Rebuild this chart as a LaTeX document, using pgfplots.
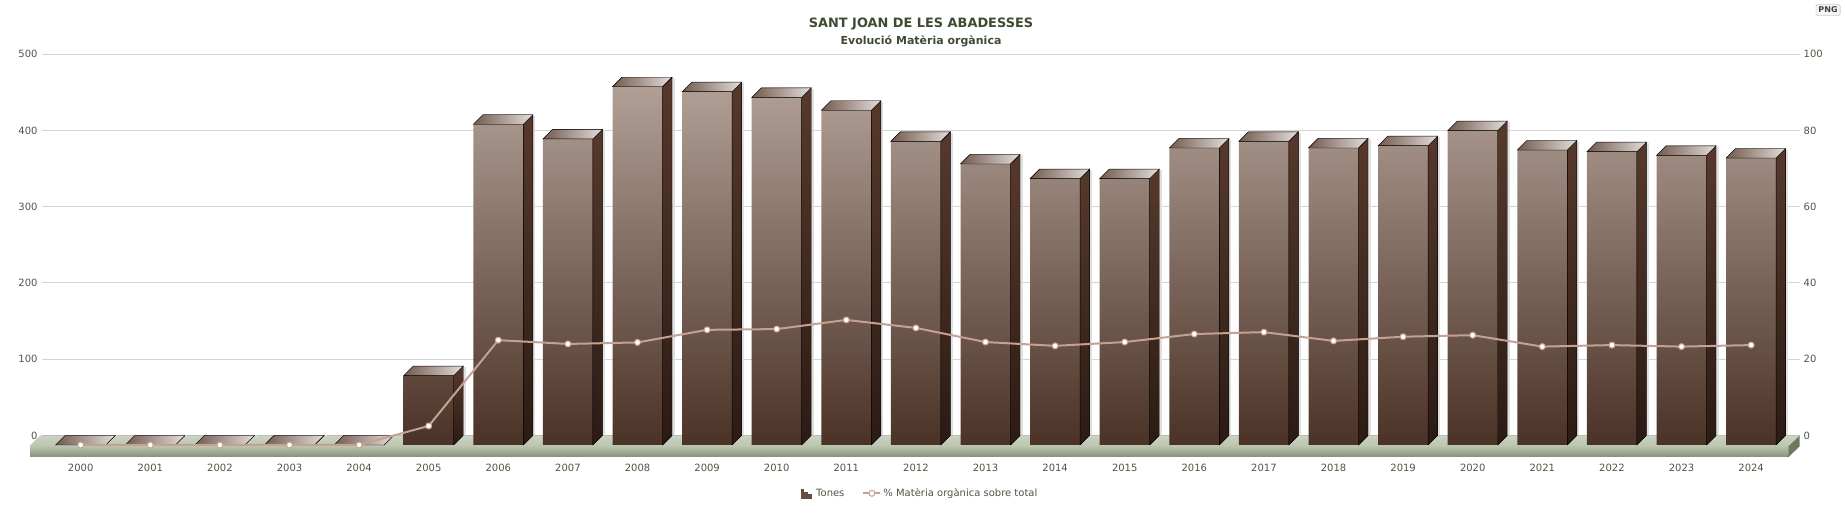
\documentclass[border=0pt]{standalone}
\usepackage{pgfplots}
\pgfplotsset{compat=1.18}
\usepackage{pgfplotstable}
\usepackage{fontspec}
\setmainfont{DejaVu Sans}

\definecolor{barTop}{HTML}{B19F95}
\definecolor{barBot}{HTML}{4B3226}
\definecolor{sideTop}{HTML}{57392C}
\definecolor{sideBot}{HTML}{2B1B14}
\definecolor{topDark}{HTML}{735A4F}
\definecolor{topMid}{HTML}{B3A199}
\definecolor{topLight}{HTML}{E4DEDA}
\definecolor{gridC}{HTML}{D4D4D4}
\definecolor{lineC}{HTML}{C4A193}
\definecolor{tickC}{HTML}{4F5644}
\definecolor{titleC}{HTML}{3E4B32}
\definecolor{floorTop}{HTML}{BAC4AD}
\definecolor{floorBack}{HTML}{CBD3C1}
\definecolor{floorF1}{HTML}{B8C2AA}
\definecolor{floorF2}{HTML}{85917A}
\definecolor{floorSide}{HTML}{6D785F}

\pgfplotstableread{
i year t p
0 2000 0 0
1 2001 0 0
2 2002 0 0
3 2003 0 0
4 2004 0 0
5 2005 90.9 5.0
6 2006 420.6 27.5
7 2007 401.4 26.5
8 2008 469.8 26.9
9 2009 463.3 30.2
10 2010 455.9 30.4
11 2011 438.9 32.8
12 2012 398.2 30.7
13 2013 368.5 27.0
14 2014 349.3 26.0
15 2015 349.3 27.0
16 2016 389.5 29.1
17 2017 398.2 29.6
18 2018 389.5 27.3
19 2019 392.5 28.4
20 2020 412.2 28.8
21 2021 386.8 25.8
22 2022 384.6 26.2
23 2023 379.8 25.8
24 2024 376.3 26.2
}\data

% side and top faces of a 3D column, drawn at the top-front-centre of the bar
\pgfdeclareplotmark{colfaces}{%
  \pgfmathsetmacro{\hh}{0.7626*\barv}%
  \draw[black!12, line width=2bp] (36bp,8.5bp) -- (36bp,{(9.5-\hh)*1bp});
  \fill[top color=sideTop, bottom color=sideBot]
    (25bp,0bp) -- (34.5bp,9.5bp) -- (34.5bp,{(9.5-\hh)*1bp}) -- (25bp,{-\hh*1bp}) -- cycle;
  \fill[left color=topDark, middle color=topMid, right color=topLight]
    (-25bp,0bp) -- (25bp,0bp) -- (34.5bp,9.5bp) -- (-15.5bp,9.5bp) -- cycle;
}

\newcommand{\tickfont}{\fontsize{10bp}{12bp}\selectfont}

\begin{document}
\begin{tikzpicture}[x=1bp,y=1bp]
\useasboundingbox (0,0) rectangle (1845,524);

% back plane: grid and left labels
\begin{axis}[at={(42.3bp,88.5bp)}, anchor=south west,
  x=69.6bp, y=0.7626bp,
  xmin=-0.6954, xmax=24.559, ymin=0, ymax=500, enlargelimits=false,
  axis line style={draw=none}, xtick=\empty, ytick={0,100,...,500},
  ymajorgrids, grid style={draw=gridC, line width=1bp},
  tick style={draw=none},
  /pgf/number format/assume math mode=true,
  yticklabel={\pgfmathprintnumber{\tick}},
  yticklabel style={anchor=east, inner sep=0pt, xshift=-4.6bp, font=\tickfont, text=tickC},
]
\addplot[draw=none] coordinates {(0,0)};
\end{axis}

% right labels
\begin{axis}[at={(42.3bp,88.5bp)}, anchor=south west,
  x=69.6bp, y=3.813bp,
  xmin=-0.6954, xmax=24.559, ymin=0, ymax=100, enlargelimits=false,
  axis line style={draw=none}, xtick=\empty, ytick={0,20,...,100},
  yticklabel pos=right,
  tick style={draw=none},
  /pgf/number format/assume math mode=true,
  yticklabel={\pgfmathprintnumber{\tick}},
  yticklabel style={anchor=west, inner sep=0pt, xshift=3.5bp, font=\tickfont, text=tickC},
]
\addplot[draw=none] coordinates {(0,0)};
\end{axis}

% floor slab
\fill[bottom color=floorTop, top color=floorBack] (30,77.5) -- (1788.5,77.5) -- (1799.5,88) -- (40.5,88) -- cycle;
\fill[top color=floorF1, bottom color=floorF2] (30,67) rectangle (1788.5,77.5);
\fill[floorSide] (1788.5,77.5) -- (1799.5,88) -- (1799.5,77.5) -- (1788.5,67) -- cycle;

% front plane: columns
\begin{axis}[at={(45.9bp,79bp)}, anchor=south west,
  x=69.6bp, y=0.7626bp,
  xmin=-0.5, xmax=24.5, ymin=0, ymax=500, enlargelimits=false, clip=false,
  axis line style={draw=none}, ytick=\empty, xtick={0,...,24},
  tick style={draw=none},
  xticklabels={2000,2001,2002,2003,2004,2005,2006,2007,2008,2009,2010,2011,2012,2013,2014,2015,2016,2017,2018,2019,2020,2021,2022,2023,2024},
  xticklabel style={anchor=center, inner sep=0pt, yshift=-23.3bp, font=\tickfont, text=tickC},
]
\addplot[ybar, bar width=50bp, bar shift=0pt, draw=none, top color=barTop, bottom color=barBot,
  restrict x to domain=4.5:25] table[x=i, y=t] {\data};
\addplot[only marks, mark=colfaces, visualization depends on={\thisrow{t} \as \barv}]
  table[x=i, y=t] {\data};
\end{axis}

% front plane: percentage line and legend
\begin{axis}[at={(45.9bp,79bp)}, anchor=south west,
  x=69.6bp, y=3.813bp,
  xmin=-0.5, xmax=24.5, ymin=0, ymax=100, enlargelimits=false, clip=false,
  axis line style={draw=none}, xtick=\empty, ytick=\empty,
  legend columns=2,
  legend style={at={(0.5024,-0.1267)}, anchor=center, draw=none, fill=none,
    font=\fontsize{10bp}{12bp}\selectfont, text=tickC,
    /tikz/every even column/.append style={column sep=16bp}},
]
\addlegendimage{legend image code/.code={
  \fill[barBot!75!barTop] (2bp,-4.5bp) rectangle (4.6bp,4.5bp);
  \fill[barBot!75!barTop] (5.6bp,-4.5bp) rectangle (8.2bp,1.5bp);
  \fill[barBot!75!barTop] (9.2bp,-4.5bp) rectangle (11.8bp,-0.5bp);
  \path (15bp,0bp);
}}
\addlegendentry{Tones}
\addplot[color=lineC, line width=2bp, mark=*, mark size=3bp,
  mark options={fill=white, draw=lineC, line width=1bp}] table[x=i, y=p] {\data};
\addlegendentry{\% Matèria orgànica sobre total}
\end{axis}

% titles
\node[font=\bfseries\fontsize{12.9bp}{15bp}\selectfont, text=titleC] at (921,499.5) {SANT JOAN DE LES ABADESSES};
\node[font=\bfseries\fontsize{11bp}{13bp}\selectfont, text=titleC] at (921,482.5) {Evolució Matèria orgànica};

% export button
\node[draw=gray!70, fill=gray!8, rounded corners=1.5bp, inner sep=2.5bp,
  font=\bfseries\fontsize{8bp}{9bp}\selectfont, text=black!75] at (1828,514) {PNG};
\end{tikzpicture}
\end{document}
